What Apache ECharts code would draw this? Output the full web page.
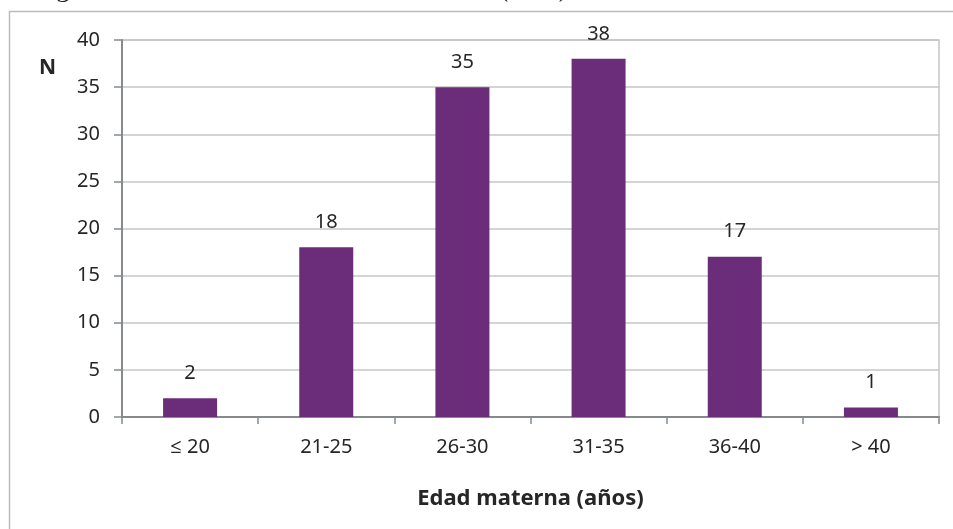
<!DOCTYPE html>
<html>
<head>
<meta charset="utf-8">
<script src="https://cdn.jsdelivr.net/npm/echarts@6/dist/echarts.min.js"></script>
<style>
  html, body { margin: 0; padding: 0; background: #ffffff; }
  #chart { width: 953px; height: 529px; }
</style>
</head>
<body>
<div id="chart"></div>
<script>
// Distribución de madres por grupo de edad
const categories = ['≤ 20', '21-25', '26-30', '31-35', '36-40', '> 40'];
const counts = [2, 18, 35, 38, 17, 1];
const yTicks = { min: 0, max: 40, interval: 5 };

const textColor = '#262626';
const fontFamily = '"Noto Sans", "Open Sans", sans-serif';

const chart = echarts.init(document.getElementById('chart'), null, { renderer: 'canvas' });

chart.setOption({
  animation: false,
  backgroundColor: '#ffffff',
  graphic: [
    {
      // caption line above the chart frame
      type: 'text',
      left: 33,
      top: -25,
      silent: true,
      style: {
        text: 'Figura 2. Distribución de la edad materna (años)',
        font: '27.6px "Liberation Serif", serif',
        fill: '#222222'
      }
    },
    {
      // chart frame
      type: 'rect',
      silent: true,
      shape: { x: 9.5, y: 11.5, width: 1000, height: 600 },
      style: { fill: 'none', stroke: '#b8bcbc', lineWidth: 1.5 }
    },
    {
      type: 'text',
      left: 39,
      top: 58,
      silent: true,
      style: {
        text: 'N',
        font: 'bold 21px "Noto Sans", sans-serif',
        fill: textColor
      }
    }
  ],
  grid: {
    left: 122,
    right: 14,
    top: 40,
    bottom: 112,
    show: true,
    borderColor: '#c4c6c6',
    borderWidth: 1.5,
    backgroundColor: 'transparent'
  },
  xAxis: {
    type: 'category',
    data: categories,
    name: 'Edad materna (años)',
    nameLocation: 'middle',
    nameGap: 71,
    nameTextStyle: {
      color: textColor,
      fontFamily: fontFamily,
      fontSize: 22,
      fontWeight: 'bold'
    },
    axisLine: { show: true, lineStyle: { color: '#868a8c', width: 2 } },
    axisTick: { show: true, length: 7, alignWithLabel: false, lineStyle: { color: '#868a8c', width: 1.5 } },
    axisLabel: {
      color: textColor,
      fontFamily: fontFamily,
      fontSize: 20,
      margin: 20
    },
    splitLine: { show: false }
  },
  yAxis: {
    type: 'value',
    min: yTicks.min,
    max: yTicks.max,
    interval: yTicks.interval,
    axisLine: { show: true, lineStyle: { color: '#868a8c', width: 2 } },
    axisTick: { show: true, length: 8, lineStyle: { color: '#868a8c', width: 1.5 } },
    axisLabel: {
      color: textColor,
      fontFamily: fontFamily,
      fontSize: 20,
      margin: 22
    },
    splitLine: { show: true, lineStyle: { color: '#c4c6c6', width: 1.5 } }
  },
  series: [
    {
      type: 'bar',
      data: counts,
      barWidth: 54,
      itemStyle: { color: '#6b2d79' },
      label: {
        show: true,
        position: 'top',
        distance: 15,
        color: textColor,
        fontFamily: fontFamily,
        fontSize: 20
      }
    }
  ]
});
</script>
</body>
</html>
